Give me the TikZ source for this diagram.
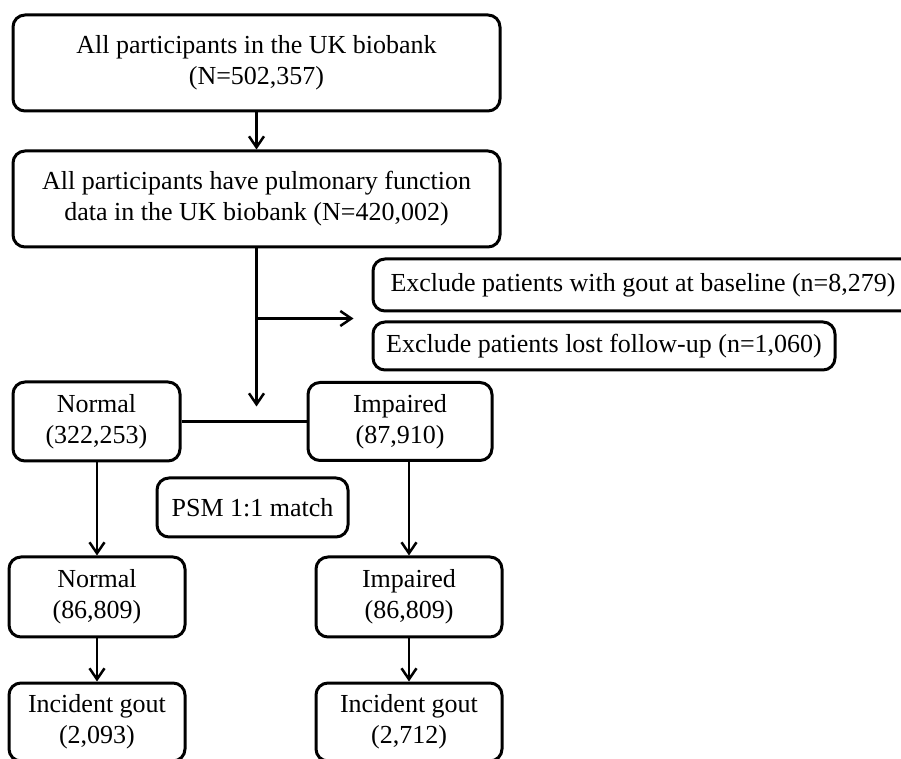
\documentclass[tikz,border=0pt]{standalone}
\usepackage{fontspec}
\setmainfont{Liberation Serif}
\usetikzlibrary{arrows.meta}

\begin{document}
\begin{tikzpicture}[x=0.5pt, y=-0.5pt,
  box/.style={draw, line width=1.5pt, rounded corners=6pt, align=center, inner sep=0pt, font=\fontsize{13}{15.5}\selectfont},
  arr/.style={line width=1.25pt, -{Straight Barb[length=5.5pt,width=7.5pt]}},
  ln/.style={line width=1.25pt}]
\useasboundingbox (0,0) rectangle (901,759);

%draw the top boxes
\node[box, minimum width=243.5pt, minimum height=48pt] (all) at (256.5, 63) {All participants in the UK biobank\\(N=502,357)};
\node[box, minimum width=243.5pt, minimum height=48pt] (pulm) at (256.5, 199) {All participants have pulmonary function\\data in the UK biobank (N=420,002)};

%draw the exclusion boxes
\node[box, minimum width=270pt, minimum height=26pt] (gout) at (643, 285) {Exclude patients with gout at baseline (n=8,279)};
\node[box, minimum width=231pt, minimum height=24pt] (lost) at (604, 346) {Exclude patients lost follow-up (n=1,060)};

%draw the groups
\node[box, minimum width=83.5pt, minimum height=39.5pt] (normal) at (96.5, 421.5) {Normal\\(322,253)};
\node[box, minimum width=92pt, minimum height=39pt] (impaired) at (400, 421.5) {Impaired\\(87,910)};
\node[box, minimum width=95.5pt, minimum height=29.5pt] (psm) at (252.5, 507.5) {PSM 1:1 match};

\node[box, minimum width=88pt, minimum height=40pt] (normalm) at (97, 597) {Normal\\(86,809)};
\node[box, minimum width=93pt, minimum height=40pt] (impairedm) at (409, 597) {Impaired\\(86,809)};

\node[box, minimum width=88pt, minimum height=39pt] (goutn) at (97, 722) {Incident gout\\(2,093)};
\node[box, minimum width=93pt, minimum height=39pt] (gouti) at (409, 722) {Incident gout\\(2,712)};

%draw the connectors
\path (pulm.south) ++(0,70) coordinate (fork) ++(0,88) coordinate (gap);
\path (fork) ++(97,0) coordinate (exarr);

\draw[arr] (all) -- (pulm);
\draw[arr] (pulm.south) -- (gap);
\draw[arr] (fork) -- (exarr);
\draw[ln] (normal.east) -- (impaired.west);

\draw[arr] (normal.south -| normalm.north) -- (normalm.north);
\draw[arr] (impaired.south -| impairedm.north) -- (impairedm.north);
\draw[arr] (normalm) -- (goutn);
\draw[arr] (impairedm) -- (gouti);

\end{tikzpicture}
\end{document}
